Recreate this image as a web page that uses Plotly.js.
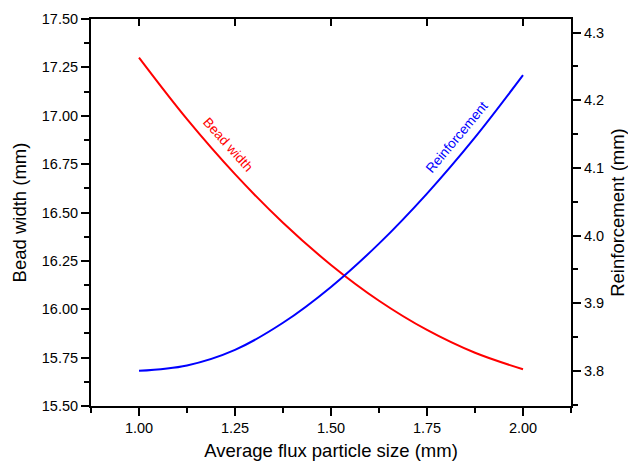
<!DOCTYPE html>
<html>
<head>
<meta charset="utf-8">
<script src="https://cdn.plot.ly/plotly-3.0.1.min.js"></script>
<style>html,body{margin:0;padding:0;background:#fff;}#chart{width:628px;height:465px;}</style>
</head>
<body>
<div id="chart"></div>
<script>
// Average flux particle size (mm)
var particleSize = [1.000, 1.125, 1.250, 1.375, 1.500, 1.625, 1.750, 1.875, 2.000];
// Bead width (mm)
var beadWidth = [17.300, 16.982, 16.698, 16.447, 16.229, 16.044, 15.893, 15.775, 15.690];
// Reinforcement (mm)
var reinforcement = [3.800, 3.808, 3.831, 3.871, 3.924, 3.988, 4.062, 4.145, 4.237];

var xTicks = [1.00, 1.25, 1.50, 1.75, 2.00];
var seriesNames = ['Bead width', 'Reinforcement'];

var fontFam = '"Liberation Sans", Arial, sans-serif';

var traces = [
  {x: particleSize, y: beadWidth, name: seriesNames[0], mode: 'lines',
   line: {color: '#ff0000', width: 2, shape: 'spline'}, xaxis: 'x', yaxis: 'y', hoverinfo: 'x+y'},
  {x: particleSize, y: reinforcement, name: seriesNames[1], mode: 'lines',
   line: {color: '#0000ff', width: 2, shape: 'spline'}, xaxis: 'x', yaxis: 'y2', hoverinfo: 'x+y'},
  // helper trace so the top frame axis is drawn
  {x: particleSize, y: beadWidth, mode: 'lines', line: {width: 0, color: 'rgba(0,0,0,0)'},
   xaxis: 'x2', yaxis: 'y', hoverinfo: 'skip', showlegend: false}
];

var layout = {
  width: 628, height: 465,
  margin: {l: 91, r: 57, t: 19, b: 59},
  paper_bgcolor: '#fff', plot_bgcolor: '#fff',
  showlegend: false,
  font: {family: fontFam, color: '#000', size: 14.5},
  xaxis: {
    range: [0.875, 2.125],
    tickmode: 'array', tickvals: xTicks, ticktext: xTicks.map(function(v){return v.toFixed(2);}),
    ticks: 'outside', ticklen: 8, tickwidth: 2, tickcolor: '#000',
    minor: {tickmode: 'linear', tick0: 0.875, dtick: 0.125, ticks: 'outside', ticklen: 5, tickwidth: 2, tickcolor: '#000'},
    showline: true, linewidth: 2, linecolor: '#000',
    showgrid: false, zeroline: false,
    tickfont: {size: 14.5, family: fontFam},
    title: {text: 'Average flux particle size (mm)', font: {size: 18.5, family: fontFam}, standoff: 9}
  },
  xaxis2: {
    overlaying: 'x', side: 'top', anchor: 'y',
    range: [0.875, 2.125],
    tickmode: 'array', tickvals: xTicks,
    ticks: 'inside', ticklen: 7, tickwidth: 2, tickcolor: '#000',
    showticklabels: false,
    showline: true, linewidth: 2, linecolor: '#000',
    showgrid: false, zeroline: false
  },
  yaxis: {
    range: [15.5, 17.5],
    tickmode: 'linear', tick0: 15.5, dtick: 0.25, tickformat: '.2f',
    ticks: 'outside', ticklen: 8, tickwidth: 2, tickcolor: '#000',
    minor: {tickmode: 'linear', tick0: 15.5, dtick: 0.125, ticks: 'outside', ticklen: 5, tickwidth: 2, tickcolor: '#000'},
    showline: true, linewidth: 2, linecolor: '#000',
    showgrid: false, zeroline: false,
    tickfont: {size: 14.5, family: fontFam},
    title: {text: 'Bead width (mm)', font: {size: 18.5, family: fontFam}, standoff: 10}
  },
  yaxis2: {
    overlaying: 'y', side: 'right', anchor: 'x',
    range: [3.748, 4.320],
    tickmode: 'linear', tick0: 3.8, dtick: 0.1, tickformat: '.1f',
    ticks: 'outside', ticklen: 8, tickwidth: 2, tickcolor: '#000',
    minor: {tickmode: 'linear', tick0: 3.75, dtick: 0.05, ticks: 'outside', ticklen: 5, tickwidth: 2, tickcolor: '#000'},
    showline: true, linewidth: 2, linecolor: '#000',
    showgrid: false, zeroline: false,
    tickfont: {size: 14.5, family: fontFam},
    title: {text: 'Reinforcement (mm)', font: {size: 18.5, family: fontFam}, standoff: 8}
  },
  annotations: [
    {x: 1.232, y: 16.853, xref: 'x', yref: 'y', text: seriesNames[0], showarrow: false,
     textangle: 48, font: {size: 13.5, color: '#ff0000', family: fontFam}},
    {x: 1.827, y: 4.145, xref: 'x', yref: 'y2', text: seriesNames[1], showarrow: false,
     textangle: -50, font: {size: 13.5, color: '#0000ff', family: fontFam}}
  ]
};

Plotly.newPlot('chart', traces, layout, {displayModeBar: false, staticPlot: true});
</script>
</body>
</html>
